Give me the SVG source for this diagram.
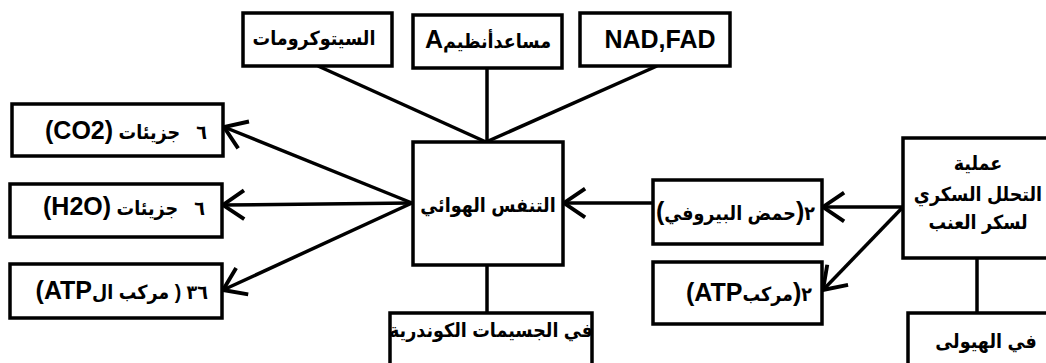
<svg xmlns="http://www.w3.org/2000/svg" width="1046" height="363" viewBox="0 0 1046 363">
  <style>
    .box { fill: #ffffff; stroke: #000000; stroke-width: 3.5; }
    .link { fill: none; stroke: #000000; stroke-width: 3.5; }
    .lbl { font-family: "Liberation Sans", "DejaVu Sans Condensed", "DejaVu Sans", Arial, sans-serif; font-weight: bold; font-size: 19.5px; fill: #000000; white-space: pre; }
    .ar { direction: rtl; unicode-bidi: embed; }
    .lat { font-size: 25px; }
  </style>
  <defs>
    <marker id="head" markerUnits="userSpaceOnUse" markerWidth="40" markerHeight="40" refX="0" refY="0" viewBox="-22 -18 26 36" orient="auto" overflow="visible">
      <path d="M-19,-13 L0,0 L-19,13" fill="none" stroke="#000000" stroke-width="3.5"/>
    </marker>
  </defs>

  <!-- connectors -->
  <g id="connectors">
    <!-- inputs into aerobic respiration -->
    <line class="link" x1="318" y1="66" x2="486" y2="142"/>
    <line class="link" x1="487" y1="68" x2="487" y2="142"/>
    <line class="link" x1="657" y1="66" x2="486" y2="142"/>
    <!-- products of aerobic respiration -->
    <line class="link" x1="412" y1="203" x2="224" y2="127" marker-end="url(#head)"/>
    <line class="link" x1="412" y1="203" x2="223" y2="205" marker-end="url(#head)"/>
    <line class="link" x1="412" y1="203" x2="223" y2="290" marker-end="url(#head)"/>
    <!-- location of aerobic respiration -->
    <line class="link" x1="487" y1="265" x2="487" y2="312"/>
    <!-- pyruvic acid into aerobic respiration -->
    <line class="link" x1="653" y1="203" x2="564" y2="203" marker-end="url(#head)"/>
    <!-- glycolysis products -->
    <line class="link" x1="903" y1="207" x2="823" y2="207" marker-end="url(#head)"/>
    <line class="link" x1="903" y1="207" x2="823" y2="290" marker-end="url(#head)"/>
    <!-- location of glycolysis -->
    <line class="link" x1="977" y1="258" x2="977" y2="313"/>
  </g>

  <!-- top inputs -->
  <g id="cytochromes">
    <rect class="box" x="243" y="13" width="149" height="53"/>
    <text class="lbl ar" x="314" y="45" text-anchor="middle">السيتوكرومات</text>
  </g>
  <g id="coenzyme-a">
    <rect class="box" x="413" y="15" width="149" height="53"/>
    <text class="lbl ar" x="488" y="48" text-anchor="middle">مساعدأنظيم<tspan class="lat">A</tspan></text>
  </g>
  <g id="nad-fad">
    <rect class="box" x="580" y="13" width="150" height="53"/>
    <text class="lbl lat" x="660" y="48" text-anchor="middle">NAD,FAD</text>
  </g>

  <!-- aerobic respiration -->
  <g id="aerobic">
    <rect class="box" x="413" y="142" width="150" height="123"/>
    <text class="lbl ar" x="488" y="212" text-anchor="middle">التنفس الهوائي</text>
  </g>
  <g id="mitochondria">
    <rect class="box" x="390" y="313" width="202" height="70"/>
    <text class="lbl ar" x="491" y="337" text-anchor="middle">في الجسيمات الكوندرية</text>
  </g>

  <!-- products -->
  <g id="co2">
    <rect class="box" x="12" y="104" width="211" height="52"/>
    <text class="lbl ar" x="207" y="139" text-anchor="start">٦   جزيئات <tspan class="lat">(CO2)</tspan></text>
  </g>
  <g id="h2o">
    <rect class="box" x="10" y="184" width="212" height="53"/>
    <text class="lbl ar" x="205" y="215" text-anchor="start">٦   جزيئات <tspan class="lat">(H2O)</tspan></text>
  </g>
  <g id="atp36">
    <rect class="box" x="10" y="264" width="212" height="54"/>
    <text class="lbl ar" x="208" y="299" text-anchor="start">٣٦ ( مركب ال<tspan class="lat">ATP)</tspan></text>
  </g>

  <!-- glycolysis side -->
  <g id="pyruvic">
    <rect class="box" x="653" y="180" width="169" height="64"/>
    <text class="lbl ar" x="815" y="220" text-anchor="start">٢<tspan class="lat">(</tspan>حمض البيروفي<tspan class="lat">)</tspan></text>
  </g>
  <g id="atp2">
    <rect class="box" x="653" y="262" width="169" height="62"/>
    <text class="lbl ar" x="812" y="301" text-anchor="start">٢<tspan class="lat">(</tspan>مركب<tspan class="lat">ATP)</tspan></text>
  </g>
  <g id="glycolysis">
    <rect class="box" x="903" y="138" width="170" height="120"/>
    <text class="lbl ar" x="978" y="170" text-anchor="middle">عملية</text>
    <text class="lbl ar" x="978" y="201" text-anchor="middle">التحلل السكري</text>
    <text class="lbl ar" x="978" y="229" text-anchor="middle">لسكر العنب</text>
  </g>
  <g id="cytoplasm">
    <rect class="box" x="908" y="313" width="170" height="70"/>
    <text class="lbl ar" x="986" y="348" text-anchor="middle">في الهيولى</text>
  </g>
</svg>
